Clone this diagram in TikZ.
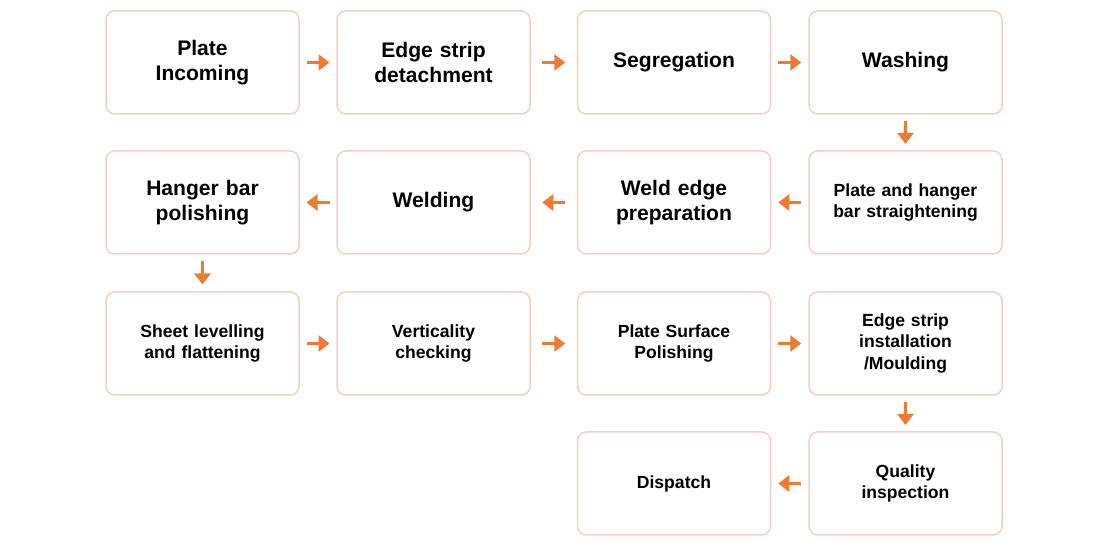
\documentclass[tikz,border=0pt]{standalone}
\usepackage{fontspec}
\setmainfont{Liberation Sans}
\usetikzlibrary{arrows.meta,calc}
\definecolor{boxline}{RGB}{244,208,195}
\definecolor{arr}{RGB}{240,122,50}

\begin{document}
\begin{tikzpicture}[
	box/.style={rectangle, rounded corners=5pt, draw=boxline, line width=0.3mm,
	minimum width=3.86cm, minimum height=2.06cm, align=center, font=\bfseries\large,
	text width=3.4cm},
	sbox/.style={box, font=\bfseries},
	link/.style={draw=arr, line width=0.7mm, -{Triangle[length=2.2mm,width=3.2mm]}}]
				\useasboundingbox (0,0) rectangle (22,10.92);
				\node[box] (1) at(4.05,9.67){\baselineskip=13pt Plate\\Incoming};
				\node[box] (2) at(8.67,9.67){\baselineskip=13pt Edge strip\\detachment};
				\node[box] (3) at(13.48,9.67){Segregation};
				\node[box] (4) at(18.11,9.67){Washing};
				\node[sbox] (5) at(18.11,6.87){\baselineskip=12pt Plate and hanger\\bar straightening};
				\node[box] (6) at(13.48,6.87){\baselineskip=13pt Weld edge\\preparation};
				\node[box] (7) at(8.67,6.87){Welding};
				\node[box] (8) at(4.05,6.87){\baselineskip=13pt Hanger bar\\polishing};
				\node[sbox] (9) at(4.05,4.05){\baselineskip=12pt Sheet levelling\\and flattening};
				\node[sbox] (10) at(8.67,4.05){\baselineskip=12pt Verticality\\checking};
				\node[sbox] (11) at(13.48,4.05){\baselineskip=12pt Plate Surface\\Polishing};
				\node[sbox] (12) at(18.11,4.05){\baselineskip=12pt Edge strip\\installation\\/Moulding};
				\node[sbox] (13) at(18.11,1.25){\baselineskip=12pt Quality\\inspection};
				\node[sbox] (14) at(13.48,1.25){Dispatch};
				% short arrows of equal length, centred in the gaps
				\foreach \a/\b in {1/2,2/3,3/4,9/10,10/11,11/12}
					\draw[link] ($(\a.east)!0.5!(\b.west)+(-0.23,0)$) -- ($(\a.east)!0.5!(\b.west)+(0.23,0)$);
				\foreach \a/\b in {5/6,6/7,7/8,13/14}
					\draw[link] ($(\a.west)!0.5!(\b.east)+(0.23,0)$) -- ($(\a.west)!0.5!(\b.east)+(-0.23,0)$);
				\foreach \a/\b in {4/5,8/9,12/13}
					\draw[link] ($(\a.south)!0.5!(\b.north)+(0,0.23)$) -- ($(\a.south)!0.5!(\b.north)+(0,-0.23)$);
			\end{tikzpicture}
\end{document}
